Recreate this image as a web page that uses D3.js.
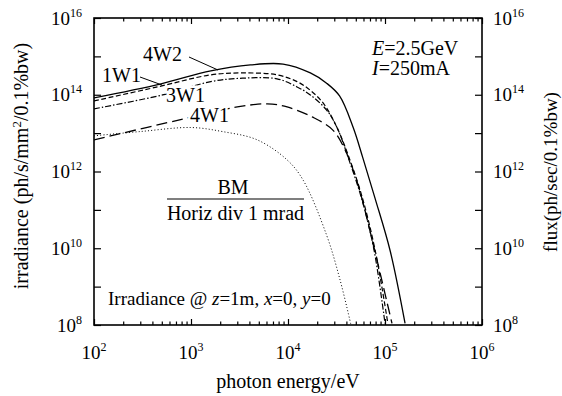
<!DOCTYPE html>
<html>
<head>
<meta charset="utf-8">
<script src="https://cdn.jsdelivr.net/npm/d3@7"></script>
<style>
  body { margin: 0; background: #fff; }
  svg { display: block; font-family: "Liberation Serif", "Times New Roman", serif; }
</style>
</head>
<body>
<div id="chart"></div>
<script>
// photon energy (eV) and irradiance values
const energy4W2 = [100, 480, 1600, 4100, 8900, 17000, 25000, 34000, 47000, 59000, 79000, 113000, 161000];
const irr4W2    = [8.3e13, 1.9e14, 4.2e14, 6.0e14, 6.3e14, 3.7e14, 2.0e14, 9.3e13, 1.4e13, 2.3e12, 2.0e11, 8.6e9, 1.1e8];

const energy1W1 = [100, 450, 1600, 3400, 7700, 12400, 17000, 23000, 32000, 43500, 58000, 79000, 107000];
const irr1W1    = [6.9e13, 1.6e14, 3.3e14, 3.7e14, 3.3e14, 2.2e14, 1.3e14, 6.1e13, 1.4e13, 2.0e12, 2.2e11, 9.1e9, 1.1e8];

const energy3W1 = [100, 510, 1600, 3400, 7700, 12400, 17000, 25000, 32000, 43500, 58000, 77000, 100000];
const irr3W1    = [4.3e13, 9.9e13, 2.2e14, 2.7e14, 2.6e14, 1.6e14, 9.9e13, 4.0e13, 1.4e13, 1.7e12, 1.8e11, 9.1e9, 1.1e8];

const energy4W1 = [100, 1000, 3000, 6100, 9800, 18000, 29000, 38700, 52700, 73500, 118000];
const irr4W1    = [6.7e12, 2.6e13, 4.8e13, 5.8e13, 4.8e13, 2.6e13, 1.2e13, 3.7e12, 4.5e11, 1.7e10, 1.1e8];

const energyBM = [100, 300, 1000, 2100, 4800, 9800, 14300, 25000, 34400, 44600];
const irrBM    = [8.5e12, 1.1e13, 1.4e13, 1.1e13, 6.7e12, 2.0e12, 6.0e11, 2.2e10, 1.5e9, 1.0e8];

const xTickExp = [2, 3, 4, 5, 6];
const yTickExp = [8, 10, 12, 14, 16];

const W = 562, H = 396;
const plotL = 94, plotR = 482, plotT = 18, plotB = 325;

const svg = d3.select('#chart').append('svg')
  .attr('width', W)
  .attr('height', H);

const x = d3.scaleLog().domain([1e2, 1e6]).range([plotL, plotR]);
const y = d3.scaleLog().domain([1e8, 1e16]).range([plotB, plotT]);

// tick positions
const xMajor = xTickExp.map(e => Math.pow(10, e));
const xMinor = [];
for (let e = 2; e < 6; e++) {
  for (let k = 2; k <= 9; k++) xMinor.push(k * Math.pow(10, e));
}
const yAll = d3.range(8, 17).map(e => Math.pow(10, e));

function axisGroup(axis, tx, ty) {
  const g = svg.append('g')
    .attr('transform', `translate(${tx},${ty})`)
    .call(axis);
  g.select('.domain').remove();
  g.selectAll('line').attr('stroke', '#000').attr('stroke-width', 1.2);
  return g;
}

axisGroup(d3.axisBottom(x).tickValues(xMajor).tickSize(-6).tickFormat(''), 0, plotB);
axisGroup(d3.axisBottom(x).tickValues(xMinor).tickSize(-3.5).tickFormat(''), 0, plotB);
axisGroup(d3.axisTop(x).tickValues(xMajor).tickSize(-6).tickFormat(''), 0, plotT);
axisGroup(d3.axisTop(x).tickValues(xMinor).tickSize(-3.5).tickFormat(''), 0, plotT);
axisGroup(d3.axisLeft(y).tickValues(yAll).tickSize(-7).tickFormat(''), plotL, 0);
axisGroup(d3.axisRight(y).tickValues(yAll).tickSize(-7).tickFormat(''), plotR, 0);

// frame
svg.append('rect')
  .attr('x', plotL).attr('y', plotT)
  .attr('width', plotR - plotL).attr('height', plotB - plotT)
  .attr('fill', 'none')
  .attr('stroke', '#000')
  .attr('stroke-width', 1.6);

// power-of-ten labels
function powLabel(px, py, exp, anchor) {
  const t = svg.append('text')
    .attr('x', px).attr('y', py)
    .attr('text-anchor', anchor)
    .attr('font-size', 19);
  t.append('tspan').text('10');
  t.append('tspan').attr('font-size', 12).attr('dy', -8).text(exp);
  return t;
}

xTickExp.forEach(e => powLabel(x(Math.pow(10, e)), 359, e, 'middle'));
yTickExp.forEach(e => {
  powLabel(82, y(Math.pow(10, e)) + 6.5, e, 'end');
  powLabel(493, y(Math.pow(10, e)) + 6.5, e, 'start');
});

// axis titles
svg.append('text')
  .attr('x', (plotL + plotR) / 2).attr('y', 388)
  .attr('text-anchor', 'middle')
  .attr('font-size', 20)
  .text('photon energy/eV');

const yt = svg.append('text')
  .attr('transform', 'translate(28,166) rotate(-90)')
  .attr('text-anchor', 'middle')
  .attr('font-size', 20);
yt.append('tspan').text('irradiance (ph/s/mm');
yt.append('tspan').attr('font-size', 13).attr('dy', -7).text('2');
yt.append('tspan').attr('dy', 7).text('/0.1%bw)');

svg.append('text')
  .attr('transform', 'translate(557,172) rotate(-90)')
  .attr('text-anchor', 'middle')
  .attr('font-size', 19)
  .text('flux(ph/sec/0.1%bw)');

// curves
svg.append('clipPath').attr('id', 'plotclip')
  .append('rect')
  .attr('x', plotL).attr('y', plotT)
  .attr('width', plotR - plotL).attr('height', plotB - plotT);

const line = d3.line()
  .x(d => x(d[0]))
  .y(d => y(d[1]))
  .curve(d3.curveCatmullRom.alpha(0.5));

const series = [
  { e: energyBM, v: irrBM, dash: '1,2.2', w: 1 },
  { e: energy4W1, v: irr4W1, dash: '11,5', w: 1.3 },
  { e: energy3W1, v: irr3W1, dash: '6,2,1.5,2', w: 1.2 },
  { e: energy1W1, v: irr1W1, dash: '5,2.5', w: 1.2 },
  { e: energy4W2, v: irr4W2, dash: null, w: 1.3 }
];

const curves = svg.append('g').attr('clip-path', 'url(#plotclip)');
series.forEach(s => {
  curves.append('path')
    .datum(d3.zip(s.e, s.v))
    .attr('fill', 'none')
    .attr('stroke', '#000')
    .attr('stroke-width', s.w)
    .attr('stroke-dasharray', s.dash)
    .attr('d', line);
});

// curve labels
function label(px, py, txt, knock) {
  const t = svg.append('text')
    .attr('x', px).attr('y', py)
    .attr('font-size', 20)
    .text(txt);
  if (knock) t.attr('stroke', '#fff').attr('stroke-width', 5).attr('paint-order', 'stroke');
  return t;
}

label(143, 61, '4W2');
svg.append('line').attr('x1', 189).attr('y1', 57).attr('x2', 218).attr('y2', 70)
  .attr('stroke', '#000').attr('stroke-width', 1);
label(102, 82, '1W1');
svg.append('line').attr('x1', 140).attr('y1', 77).attr('x2', 162).attr('y2', 85)
  .attr('stroke', '#000').attr('stroke-width', 1);
label(166, 102, '3W1', true);
label(190, 122, '4W1', true);

// BM annotation
svg.append('text')
  .attr('x', 233).attr('y', 194)
  .attr('text-anchor', 'middle')
  .attr('font-size', 20)
  .text('BM');
svg.append('line')
  .attr('x1', 167).attr('x2', 304).attr('y1', 199).attr('y2', 199)
  .attr('stroke', '#000').attr('stroke-width', 1.2);
svg.append('text')
  .attr('x', 235.5).attr('y', 220)
  .attr('text-anchor', 'middle')
  .attr('font-size', 20)
  .text('Horiz div 1 mrad');

// beam parameters
const t1 = svg.append('text').attr('x', 372).attr('y', 55).attr('font-size', 20);
t1.append('tspan').attr('font-style', 'italic').text('E');
t1.append('tspan').text('=2.5GeV');
const t2 = svg.append('text').attr('x', 372).attr('y', 75).attr('font-size', 20);
t2.append('tspan').attr('font-style', 'italic').text('I');
t2.append('tspan').text('=250mA');

// observation point
const t3 = svg.append('text').attr('x', 108).attr('y', 305).attr('font-size', 19);
t3.append('tspan').text('Irradiance @ ');
t3.append('tspan').attr('font-style', 'italic').text('z');
t3.append('tspan').text('=1m, ');
t3.append('tspan').attr('font-style', 'italic').text('x');
t3.append('tspan').text('=0, ');
t3.append('tspan').attr('font-style', 'italic').text('y');
t3.append('tspan').text('=0');
</script>
</body>
</html>
